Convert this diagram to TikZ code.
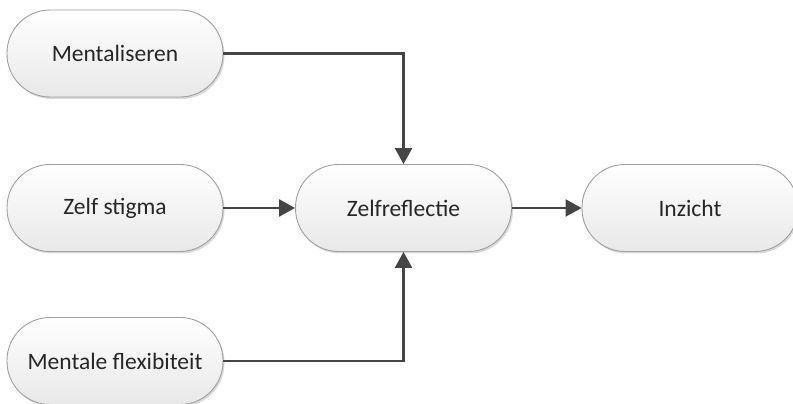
\documentclass[tikz,border=0pt]{standalone}
\usepackage{fontspec}
\setmainfont{Carlito}
\usetikzlibrary{arrows.meta,shadows}
\definecolor{linec}{HTML}{454545}
\definecolor{borderc}{HTML}{A0A0A0}
\definecolor{textc}{HTML}{262626}
\tikzset{
  box/.style={draw=borderc, line width=0.9pt, top color=white, bottom color=black!9,
    minimum width=216pt, minimum height=87pt, rounded corners=43pt,
    text=textc, font=\fontsize{23.5}{28}\selectfont,
    drop shadow={shadow xshift=1.5pt, shadow yshift=-2pt, opacity=0.15, fill=black}},
  conn/.style={draw=linec, line width=2.4pt, -{Triangle[length=16pt,width=17pt]}}
}
\begin{document}
\begin{tikzpicture}[x=1pt,y=1pt]
\fill[white] (0,0) rectangle (793,404);
\useasboundingbox (0,0) rectangle (793,404);
\node[box] (m) at (115,350.5) {Mentaliseren};
\node[box] (s) at (115,196) {Zelf stigma};
\node[box] (f) at (115,43) {Mentale flexibiteit};
\node[box] (z) at (403.5,196) {Zelfreflectie};
\node[box] (i) at (690,196) {Inzicht};
\draw[conn] (m.east) -| (z.north);
\draw[conn] (s.east) -- (z.west);
\draw[conn] (f.east) -| (z.south);
\draw[conn] (z.east) -- (i.west);
\end{tikzpicture}
\end{document}
